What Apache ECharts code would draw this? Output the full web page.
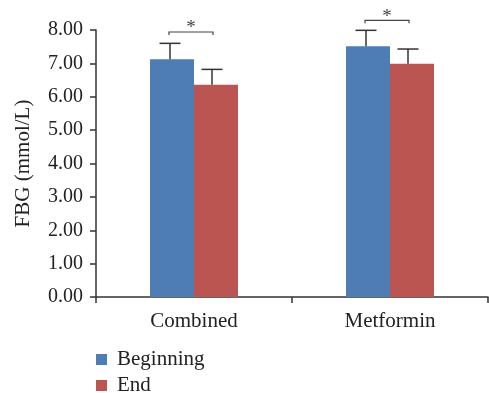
<!DOCTYPE html>
<html>
<head>
<meta charset="utf-8">
<script src="https://cdn.jsdelivr.net/npm/echarts@6/dist/echarts.min.js"></script>
<style>html,body{margin:0;padding:0;background:#fff;}#c{width:489px;height:393px;}</style>
</head>
<body>
<div id="c"></div>
<script>
var categories = ['Combined', 'Metformin'];
var beginning = [7.12, 7.51];
var beginningSD = [0.48, 0.48];
var endVals = [6.36, 6.99];
var endSD = [0.46, 0.44];
var bracketY = [7.94, 8.29];
var seriesNames = ['Beginning', 'End'];

var FONT = 'Liberation Serif';
var BAR_W = 44;
var chart = echarts.init(document.getElementById('c'));

function errSeries(vals, sds, offset) {
  return {
    type: 'custom',
    silent: true,
    z: 5,
    data: vals.map(function (v, i) { return [i, v, v + sds[i]]; }),
    renderItem: function (params, api) {
      var base = api.coord([api.value(0), api.value(1)]);
      var top = api.coord([api.value(0), api.value(2)]);
      var x = base[0] + offset;
      return {
        type: 'group',
        children: [
          { type: 'line', shape: { x1: x, y1: base[1], x2: x, y2: top[1] }, style: { stroke: '#333', lineWidth: 1.5 } },
          { type: 'line', shape: { x1: x - 10.5, y1: top[1], x2: x + 10.5, y2: top[1] }, style: { stroke: '#333', lineWidth: 1.5 } }
        ]
      };
    }
  };
}

function legendFor(name, top) {
  return {
    orient: 'vertical',
    left: 96,
    top: top,
    padding: 0,
    itemWidth: 11,
    itemHeight: 11,
    itemGap: 0,
    icon: 'rect',
    textStyle: { fontFamily: FONT, fontSize: 21, color: '#222', padding: [0, 0, 0, 5] },
    data: [name]
  };
}

var option = {
  animation: false,
  backgroundColor: '#fff',
  grid: { left: 96, right: 1, top: 30, bottom: 96, containLabel: false },
  legend: [legendFor(seriesNames[0], 349), legendFor(seriesNames[1], 375)],
  xAxis: {
    type: 'category',
    data: categories,
    axisLine: { lineStyle: { color: '#333', width: 1.5 } },
    axisTick: { show: true, length: 6, lineStyle: { color: '#333', width: 1.5 } },
    axisLabel: { fontFamily: FONT, fontSize: 21, color: '#222', margin: 14 }
  },
  yAxis: {
    type: 'value',
    min: 0,
    max: 8,
    interval: 1,
    name: 'FBG (mmol/L)',
    nameLocation: 'middle',
    nameGap: 62,
    nameTextStyle: { fontFamily: FONT, fontSize: 21, color: '#222' },
    axisLine: { show: true, lineStyle: { color: '#333', width: 1.5 } },
    axisTick: { show: true, length: 6, lineStyle: { color: '#333', width: 1.5 } },
    splitLine: { show: false },
    axisLabel: {
      fontFamily: FONT, fontSize: 20, color: '#222', margin: 13,
      formatter: function (v) { return v.toFixed(2); }
    }
  },
  series: [
    { name: seriesNames[0], type: 'bar', data: beginning, barWidth: BAR_W, barGap: '0%', itemStyle: { color: '#4E7DB5' } },
    { name: seriesNames[1], type: 'bar', data: endVals, barWidth: BAR_W, barGap: '0%', itemStyle: { color: '#BA5552' } },
    errSeries(beginning, beginningSD, -BAR_W / 2 - 2),
    errSeries(endVals, endSD, BAR_W / 2 - 4),
    {
      type: 'custom',
      silent: true,
      z: 5,
      clip: false,
      data: bracketY.map(function (y, i) { return [i, y]; }),
      renderItem: function (params, api) {
        var p = api.coord([api.value(0), api.value(1)]);
        var x1 = p[0] - BAR_W / 2 - 3, x2 = p[0] + BAR_W / 2 - 3, y = p[1];
        return {
          type: 'group',
          children: [
            { type: 'polyline', shape: { points: [[x1, y + 3], [x1, y], [x2, y], [x2, y + 3]] }, style: { stroke: '#444', lineWidth: 1.2, fill: null } },
            { type: 'text', style: { text: '*', x: (x1 + x2) / 2, y: y + 6, fontFamily: FONT, fontSize: 19, fill: '#444', align: 'center', verticalAlign: 'bottom' } }
          ]
        };
      }
    }
  ]
};
chart.setOption(option);
</script>
</body>
</html>
